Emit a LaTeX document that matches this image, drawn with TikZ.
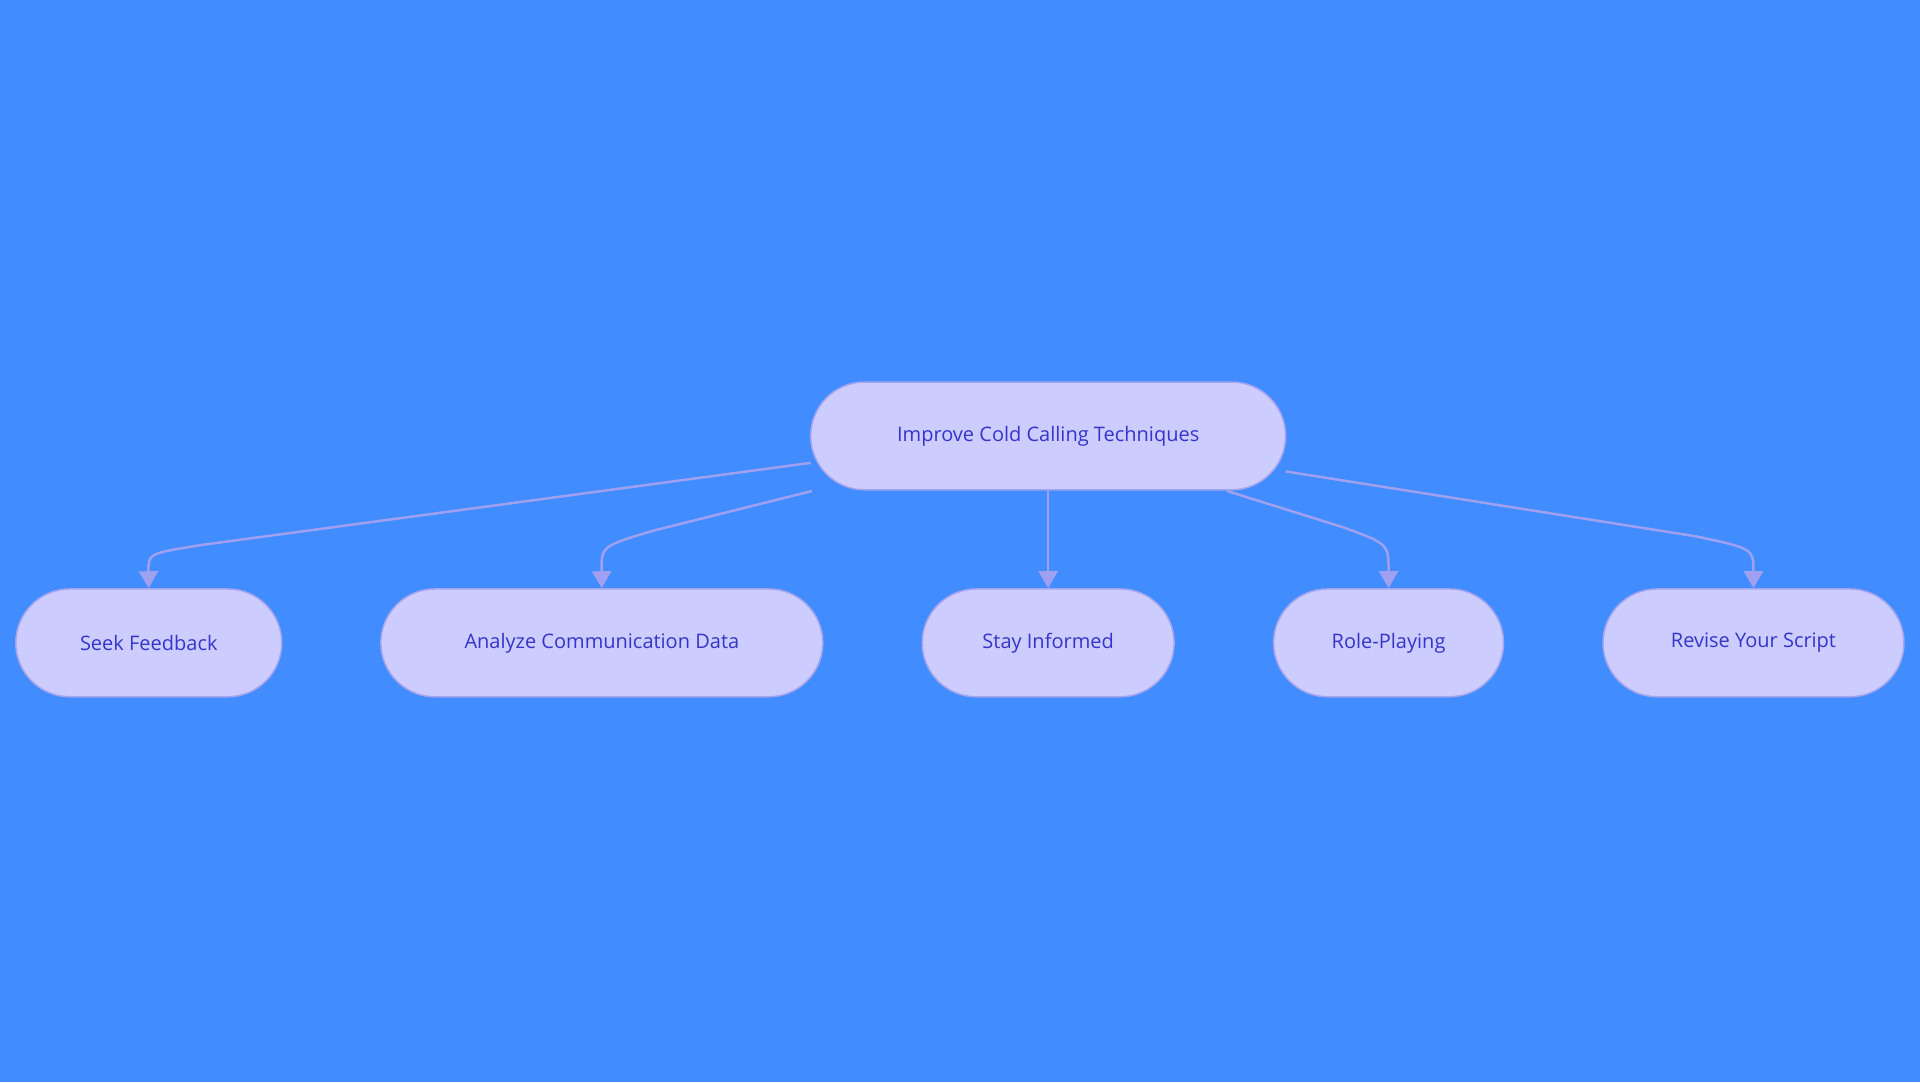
\documentclass[tikz,border=0pt]{standalone}
\usepackage{fontspec}
\setmainfont{Open Sans}
\usetikzlibrary{arrows.meta,shapes.misc}
\definecolor{bg}{HTML}{418DFF}
\definecolor{nodefill}{HTML}{CCCCFF}
\definecolor{nodeline}{HTML}{A3A3EE}
\definecolor{txt}{HTML}{3535C8}
\definecolor{edge}{HTML}{A0A0F0}
\begin{document}
\begin{tikzpicture}[x=1.2245pt,y=-1.2245pt,
  box/.style={rounded rectangle,fill=nodefill,draw=nodeline,line width=1.5pt,text=txt,
    font=\fontsize{20}{24}\selectfont,minimum height=107.8pt,inner sep=0pt},
  link/.style={draw=edge,line width=2.5pt,-{Triangle[length=17pt,width=19pt]}}]
\fill[bg] (0,0) rectangle (1568,884);
\useasboundingbox (0,0) rectangle (1568,884);
\node[box,minimum width=475pt] (root) at (856,356) {Improve Cold Calling Techniques};
\node[box,minimum width=266pt] (seek) at (121.5,525) {Seek Feedback};
\node[box,minimum width=442pt] (ana) at (491.5,525) {Analyze Communication Data};
\node[box,minimum width=252pt] (stay) at (856,525) {Stay Informed};
\node[box,minimum width=230pt] (role) at (1134,525) {Role-Playing};
\node[box,minimum width=301pt] (rev) at (1432,525) {Revise Your Script};
\coordinate (s1) at (662,378);
\coordinate (s2) at (663,401);
\coordinate (s4) at (1002,401);
\coordinate (s5) at (1050,385);
\draw[link] (s1) -- (165,445) .. controls (121,452) .. (seek.north);
\draw[link] (s2) -- (535,433) .. controls (491,446) .. (ana.north);
\draw[link] (root.south) -- (stay.north);
\draw[link] (s4) -- (1095,430) .. controls (1134,444) .. (role.north);
\draw[link] (s5) -- (1385,438) .. controls (1432,448) .. (rev.north);
\end{tikzpicture}
\end{document}
